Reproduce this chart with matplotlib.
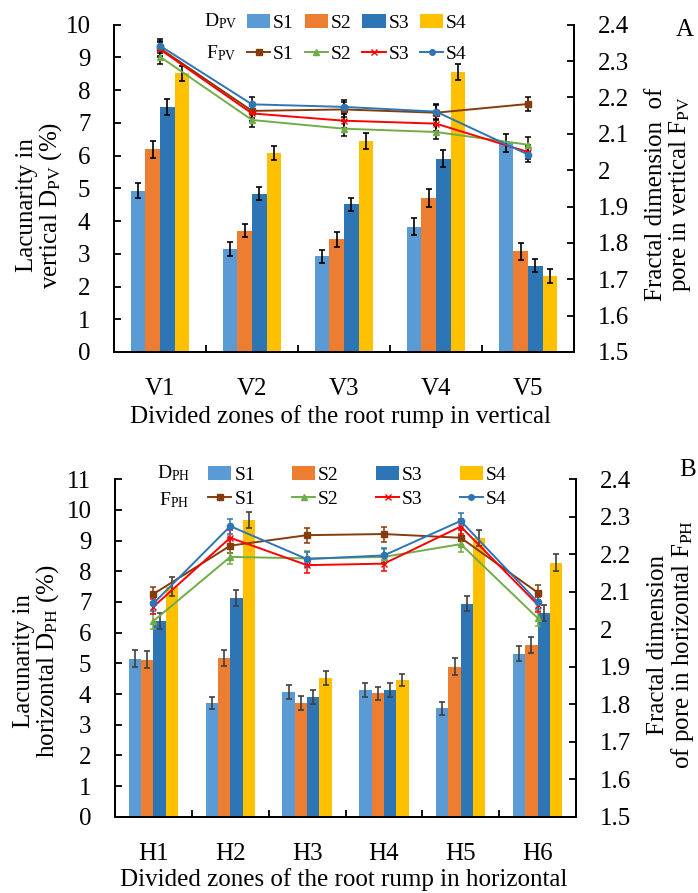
import numpy as np
import matplotlib
matplotlib.use("Agg")
import matplotlib.pyplot as plt
from matplotlib.patches import Patch
from matplotlib.lines import Line2D

plt.rcParams['font.family'] = ['Liberation Serif', 'DejaVu Serif']
plt.rcParams['mathtext.fontset'] = 'custom'
plt.rcParams['mathtext.rm'] = 'Liberation Serif'
plt.rcParams['mathtext.it'] = 'Liberation Serif:italic'

series = ['S1', 'S2', 'S3', 'S4']
v_zones = ['V1', 'V2', 'V3', 'V4', 'V5']
h_zones = ['H1', 'H2', 'H3', 'H4', 'H5', 'H6']

# lacunarity in vertical (bars)
dpv_s1 = [4.93, 3.14, 2.93, 3.83, 6.39]
dpv_s2 = [6.19, 3.71, 3.44, 4.70, 3.08]
dpv_s3 = [7.48, 4.84, 4.51, 5.91, 2.63]
dpv_s4 = [8.51, 6.08, 6.44, 8.56, 2.33]
dpv_e1 = [0.23, 0.21, 0.20, 0.25, 0.28]
dpv_e2 = [0.26, 0.20, 0.22, 0.27, 0.26]
dpv_e3 = [0.25, 0.21, 0.21, 0.27, 0.20]
dpv_e4 = [0.24, 0.21, 0.24, 0.25, 0.22]

# fractal dimension in vertical (lines)
fpv_s1 = [2.335, 2.163, 2.167, 2.158, 2.182]
fpv_s2 = [2.312, 2.138, 2.114, 2.105, 2.070]
fpv_s3 = [2.332, 2.156, 2.136, 2.128, 2.050]
fpv_s4 = [2.342, 2.181, 2.174, 2.161, 2.043]
fpv_err = [0.02, 0.02, 0.02, 0.02, 0.02]

# lacunarity in horizontal (bars)
dph_s1 = [5.15, 3.71, 4.06, 4.13, 3.53, 5.32]
dph_s2 = [5.12, 5.17, 3.71, 4.02, 4.89, 5.60]
dph_s3 = [6.39, 7.13, 3.91, 4.13, 6.95, 6.64]
dph_s4 = [7.50, 9.67, 4.52, 4.46, 9.08, 8.28]
dph_e1 = [0.27, 0.20, 0.22, 0.22, 0.22, 0.26]
dph_e2 = [0.27, 0.26, 0.22, 0.22, 0.27, 0.26]
dph_e3 = [0.26, 0.26, 0.22, 0.23, 0.26, 0.26]
dph_e4 = [0.30, 0.25, 0.23, 0.20, 0.27, 0.28]

# fractal dimension in horizontal (lines)
fph_s1 = [2.094, 2.223, 2.251, 2.254, 2.244, 2.098]
fph_s2 = [2.022, 2.193, 2.189, 2.193, 2.227, 2.030]
fph_s3 = [2.060, 2.244, 2.171, 2.175, 2.274, 2.066]
fph_s4 = [2.069, 2.275, 2.187, 2.197, 2.289, 2.073]
fph_err = [0.02, 0.02, 0.02, 0.02, 0.02, 0.02]

bar_colors = ['#5B9BD5', '#ED7D31', '#2E75B6', '#FFC000']
line_colors = ['#843C0C', '#70AD47', '#FF0000', '#2E75B6']
markers = ['s', '^', 'x', 'o']

W, H = 698, 893
fig = plt.figure(figsize=(W / 100, H / 100), dpi=100)


def px(x0, y0, x1, y1):
    # pixel box (from top-left) -> figure fraction rect
    return [x0 / W, 1 - y1 / H, (x1 - x0) / W, (y1 - y0) / H]


def panel(rect, zones, bars, bar_errs, lines, line_errs, ymax, berr_color, lerr_colors):
    ax = fig.add_axes(rect)
    x = np.arange(len(zones))
    bw = 0.16
    for i in range(4):
        ax.bar(x + (i - 1.5) * bw, bars[i], bw, color=bar_colors[i],
               yerr=bar_errs[i], ecolor=berr_color, capsize=2.5,
               error_kw=dict(elinewidth=1.2, capthick=1.2), zorder=2)
    ax.set_xlim(-0.5, len(zones) - 0.5)
    ax.set_ylim(0, ymax)
    ax.set_yticks(np.arange(0, ymax + 1, 1))
    ax.set_xticks(x)
    ax.set_xticklabels(zones)
    ax.set_xticks(x[:-1] + 0.5, minor=True)
    ax.tick_params(axis='x', which='major', length=0, pad=19, labelsize=18)
    ax.tick_params(axis='x', which='minor', direction='in', length=5, width=1.3)
    ax.tick_params(axis='y', direction='in', length=5, width=1.3, pad=17, labelsize=18)
    ax.spines['top'].set_visible(False)
    for s in ['left', 'bottom', 'right']:
        ax.spines[s].set_linewidth(1.4)

    ax2 = ax.twinx()
    for i in range(4):
        ax2.errorbar(x, lines[i], yerr=line_errs, color=line_colors[i],
                     marker=markers[i], markersize=4.5 if i != 2 else 5,
                     linewidth=1.4, ecolor=lerr_colors[i], elinewidth=1.1,
                     capsize=2.5, capthick=1.1, zorder=3)
    ax2.set_ylim(1.5, 2.4)
    yt = np.round(np.arange(1.5, 2.41, 0.1), 1)
    ax2.set_yticks(yt)
    ax2.set_yticklabels(['%g' % v for v in yt])
    ax2.tick_params(axis='y', direction='in', length=5, width=1.3, pad=17, labelsize=18)
    ax2.spines['top'].set_visible(False)
    for s in ['left', 'bottom', 'right']:
        ax2.spines[s].set_linewidth(1.4)
    return ax, ax2


# panel A
panel(px(114, 24.7, 574, 352), v_zones,
      [dpv_s1, dpv_s2, dpv_s3, dpv_s4], [dpv_e1, dpv_e2, dpv_e3, dpv_e4],
      [fpv_s1, fpv_s2, fpv_s3, fpv_s4], fpv_err, 10, 'black', ['black'] * 4)

# panel B
panel(px(115, 479.3, 576, 816.7), h_zones,
      [dph_s1, dph_s2, dph_s3, dph_s4], [dph_e1, dph_e2, dph_e3, dph_e4],
      [fph_s1, fph_s2, fph_s3, fph_s4], fph_err, 11, '#404040', line_colors)

# legends
handles = []
for i in range(4):
    handles.append(Patch(facecolor=bar_colors[i]))
    handles.append(Line2D([], [], color=line_colors[i], marker=markers[i],
                          markersize=4, linewidth=1.4))
labels = []
for s in series:
    labels += [s, s]

fig.legend(handles, labels, ncol=4, loc='upper left',
           bbox_to_anchor=(247 / W, 1 - 14 / H), frameon=False, fontsize=14,
           borderpad=0, borderaxespad=0, handlelength=1.2, handleheight=0.7,
           handletextpad=0.15, columnspacing=0.55, labelspacing=0.7)
fig.text(221 / W, 1 - 21 / H, 'D$_{\\mathrm{PV}}$', fontsize=14, ha='center', va='center')
fig.text(221 / W, 1 - 53 / H, 'F$_{\\mathrm{PV}}$', fontsize=14, ha='center', va='center')

fig.legend(handles, labels, ncol=4, loc='upper left',
           bbox_to_anchor=(208 / W, 1 - 466 / H), frameon=False, fontsize=14,
           borderpad=0, borderaxespad=0, handlelength=1.2, handleheight=0.7,
           handletextpad=0.15, columnspacing=1.9, labelspacing=0.35)
fig.text(174 / W, 1 - 473 / H, 'D$_{\\mathrm{PH}}$', fontsize=14, ha='center', va='center')
fig.text(174 / W, 1 - 500 / H, 'F$_{\\mathrm{PH}}$', fontsize=14, ha='center', va='center')

# axis titles
fig.text(341 / W, 1 - 417 / H, 'Divided zones of the root rump in vertical',
         fontsize=18, ha='center', va='center')
fig.text(344 / W, 1 - 880 / H, 'Divided zones of the root rump in horizontal',
         fontsize=18, ha='center', va='center')
fig.text(40 / W, 1 - 205 / H, 'Lacunarity in\nvertical D$_{\\mathrm{PV}}$ (%)',
         fontsize=18, rotation=90, ha='center', va='center', linespacing=1.0)
fig.text(37 / W, 1 - 661 / H, 'Lacunarity in\nhorizontal D$_{\\mathrm{PH}}$ (%)',
         fontsize=18, rotation=90, ha='center', va='center', linespacing=1.0)
fig.text(669 / W, 1 - 194 / H, 'Fractal dimension  of\npore in vertical F$_{\\mathrm{PV}}$',
         fontsize=18, rotation=90, ha='center', va='center', linespacing=1.0)
fig.text(671 / W, 1 - 645 / H, 'Fractal dimension\nof pore in horizontal F$_{\\mathrm{PH}}$',
         fontsize=18, rotation=90, ha='center', va='center', linespacing=1.0)
fig.text(685 / W, 1 - 30 / H, 'A', fontsize=18, ha='center', va='center')
fig.text(688 / W, 1 - 470 / H, 'B', fontsize=18, ha='center', va='center')

fig.savefig('out.png', dpi=100)
